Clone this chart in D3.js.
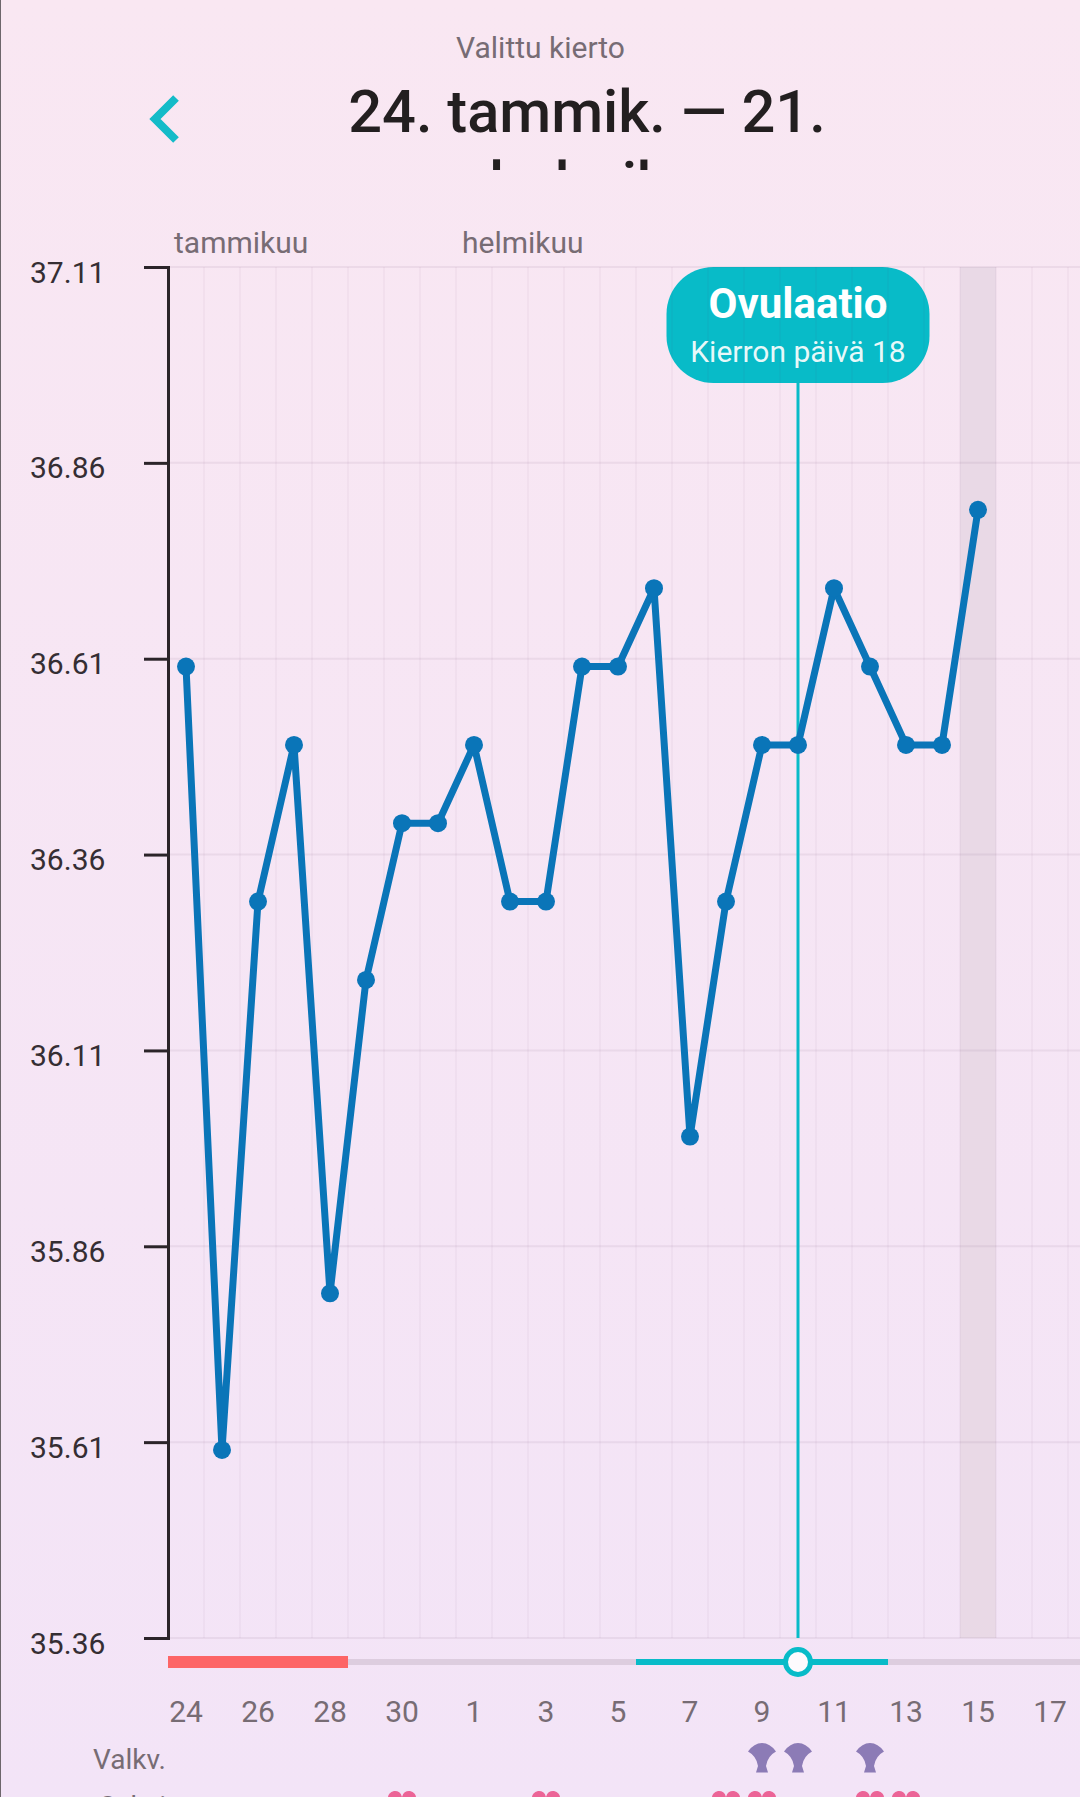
<!DOCTYPE html>
<html>
<head>
<meta charset="utf-8">
<title>Valittu kierto</title>
<script src="https://cdn.jsdelivr.net/npm/d3@7"></script>
<style>
    html, body {margin: 0; padding: 0; overflow: hidden; background: #f6e6f4;}
    svg {display: block; font-family: Roboto, sans-serif;}
</style>
</head>
<body>
<div id="chart"></div>
<script>
// days of the cycle, 24 Jan - 21 Feb
const days = [24, 25, 26, 27, 28, 29, 30, 31, 1, 2, 3, 4, 5, 6, 7, 8, 9, 10, 11, 12, 13, 14, 15, 16, 17, 18, 19, 20, 21];
const dayTicks = [24, 26, 28, 30, 1, 3, 5, 7, 9, 11, 13, 15, 17];
const months = [{name: "tammikuu", first: 24}, {name: "helmikuu", first: 1}];

// basal temperature, one reading per day up to the 15th
const temperatures = [36.6, 35.6, 36.3, 36.5, 35.8, 36.2, 36.4, 36.4, 36.5, 36.3, 36.3, 36.6, 36.6, 36.7, 36.0, 36.3, 36.5, 36.5, 36.7, 36.6, 36.5, 36.5, 36.8];
const tempTicks = [37.11, 36.86, 36.61, 36.36, 36.11, 35.86, 35.61, 35.36];

const periodDays = [24, 28];
const fertileDays = [6, 12];
const ovulationDay = 10;
const todayShade = 15;
const mucusDays = [9, 10, 12];
const sexDays = [30, 3, 8, 9, 12, 13];

const width = 1080, height = 1797;
const plot = {left: 168, top: 267, bottom: 1638, step: 36};

const teal = "#08bbc8", labelGrey = "#776c74", axisDark = "#2b2429", lineBlue = "#0a75b8";

let svg = d3.select("#chart").append("svg")
    .attr("width", width).attr("height", height)
    .attr("viewBox", "0 0 " + width + " " + height);

let defs = svg.append("defs");
let bg = defs.append("linearGradient").attr("id", "bg").attr("x1", 0).attr("y1", 0).attr("x2", 0).attr("y2", 1);
bg.append("stop").attr("offset", "0%").attr("stop-color", "#f9e7f2");
bg.append("stop").attr("offset", "100%").attr("stop-color", "#f3e4f7");
defs.append("clipPath").attr("id", "titleClip").append("rect")
    .attr("x", 0).attr("y", 0).attr("width", width).attr("height", 170);

svg.append("rect").attr("width", width).attr("height", height).attr("fill", "url(#bg)");
svg.append("rect").attr("width", 1).attr("height", height).attr("fill", "#6d666b");

//Scales
let x = d3.scaleBand().domain(days).range([plot.left, plot.left + plot.step * days.length]);
let y = d3.scaleLinear().domain([35.36, 37.11]).range([plot.bottom, plot.top]);
let cx = d => x(d) + x.bandwidth() / 2;

//Header
svg.append("text").attr("x", 540.5).attr("y", 58).attr("text-anchor", "middle")
    .attr("font-size", 30).attr("fill", labelGrey).text("Valittu kierto");

svg.append("path").attr("d", "M176,98 L155,119 L176,140")
    .attr("fill", "none").attr("stroke", "#14bbc8").attr("stroke-width", 8);

let title = svg.append("g").attr("clip-path", "url(#titleClip)")
    .attr("text-anchor", "middle").attr("font-size", 59.6).attr("font-weight", 500).attr("fill", "#231f20");
title.append("text").attr("x", 587).attr("y", 132).text("24. tammik. — 21.");
title.append("text").attr("x", 587).attr("y", 204).text("helmik.");

//Month names
svg.append("g").selectAll("text").data(months).enter().append("text")
    .attr("x", d => x(d.first) + 6).attr("y", 253)
    .attr("font-size", 30).attr("fill", labelGrey).text(d => d.name);

//Shaded day
svg.append("rect").attr("x", x(todayShade)).attr("y", plot.top)
    .attr("width", x.bandwidth()).attr("height", plot.bottom - plot.top).attr("fill", "#e9d9e6");

//Ovulation callout and its line
svg.append("rect").attr("x", cx(ovulationDay) - 131.5).attr("y", plot.top)
    .attr("width", 263).attr("height", 116).attr("rx", 47).attr("fill", teal);

//Grid lines
let grid = svg.append("g").attr("stroke", "#6a3a6a");
grid.selectAll(".v").data(days).enter().append("line").attr("class", "v")
    .attr("x1", d => x(d)).attr("x2", d => x(d))
    .attr("y1", plot.top).attr("y2", plot.bottom)
    .attr("stroke-width", 2).attr("stroke-opacity", 0.04);
grid.selectAll(".h").data(tempTicks).enter().append("line").attr("class", "h")
    .attr("x1", plot.left).attr("x2", width)
    .attr("y1", d => y(d)).attr("y2", d => y(d))
    .attr("stroke-width", 2).attr("stroke-opacity", 0.08);

svg.append("line").attr("x1", cx(ovulationDay)).attr("x2", cx(ovulationDay))
    .attr("y1", plot.top + 116).attr("y2", plot.bottom)
    .attr("stroke", teal).attr("stroke-width", 3);

let callout = svg.append("g").attr("text-anchor", "middle").attr("fill", "#ffffff");
callout.append("text").attr("x", cx(ovulationDay)).attr("y", 318)
    .attr("font-size", 42).attr("font-weight", 700).text("Ovulaatio");
callout.append("text").attr("x", cx(ovulationDay)).attr("y", 362)
    .attr("font-size", 30).attr("fill-opacity", 0.92).text("Kierron päivä 18");

//Temperature axis
let yAxis = d3.axisLeft(y).tickValues(tempTicks).tickSize(24).tickPadding(0).tickFormat(d3.format(".2f"));
let yG = svg.append("g").attr("transform", "translate(" + plot.left + ",0)").call(yAxis);
yG.select(".domain").attr("stroke", axisDark).attr("stroke-width", 3);
yG.selectAll(".tick line").attr("stroke", axisDark).attr("stroke-width", 3);
yG.selectAll(".tick text")
    .attr("x", 30 - plot.left).attr("dy", "0.5em").style("text-anchor", "start")
    .attr("font-family", "Roboto").attr("font-size", 30).attr("fill", "#352e33");

//Cycle phase strip
let strip = svg.append("g");
strip.append("rect").attr("x", plot.left).attr("y", 1659).attr("width", width - plot.left).attr("height", 6).attr("fill", "#ddcddf");
strip.append("rect").attr("x", x(fertileDays[0])).attr("y", 1659)
    .attr("width", x(fertileDays[1]) + x.bandwidth() - x(fertileDays[0])).attr("height", 6).attr("fill", teal);
strip.append("rect").attr("x", x(periodDays[0])).attr("y", 1656)
    .attr("width", x(periodDays[1]) + x.bandwidth() - x(periodDays[0])).attr("height", 12).attr("fill", "#fd6566");
strip.append("circle").attr("cx", cx(ovulationDay)).attr("cy", 1662).attr("r", 12.5)
    .attr("fill", "#fdfafd").attr("stroke", teal).attr("stroke-width", 5);

//Day labels
let xAxis = d3.axisBottom(x).tickValues(dayTicks).tickSize(0).tickPadding(0);
let xG = svg.append("g").attr("transform", "translate(0,1700)").call(xAxis);
xG.select(".domain").remove();
xG.selectAll(".tick text").attr("y", 0).attr("dy", "0.72em")
    .attr("font-family", "Roboto").attr("font-size", 30).attr("fill", labelGrey);

//Temperature line
let line = d3.line().x((d, i) => cx(days[i])).y(d => y(d));
svg.append("path").datum(temperatures).attr("d", line)
    .attr("fill", "none").attr("stroke", lineBlue).attr("stroke-width", 7).attr("stroke-linejoin", "round");
svg.append("g").selectAll("circle").data(temperatures).enter().append("circle")
    .attr("cx", (d, i) => cx(days[i])).attr("cy", d => y(d)).attr("r", 9).attr("fill", lineBlue);

//Symptom rows
let rows = svg.append("g").attr("text-anchor", "end").attr("font-size", 28).attr("fill", labelGrey);
rows.append("text").attr("x", 166).attr("y", 1769).text("Valkv.");
rows.append("text").attr("x", 166).attr("y", 1816).text("Seksi");

svg.append("g").selectAll("path").data(mucusDays).enter().append("path")
    .attr("transform", d => "translate(" + cx(d) + ",1743)")
    .attr("d", "M-14,8.5 Q-8,0 0,0 Q8,0 14,8.5 Q5.5,13 4,23 L6,29.5 L-6,29.5 L-4,23 Q-5.5,13 -14,8.5 Z")
    .attr("fill", "#8c7bb6");

svg.append("g").selectAll("path").data(sexDays).enter().append("path")
    .attr("transform", d => "translate(" + cx(d) + ",1793)")
    .attr("d", "M0,4 A7,7 0 0 1 14,6 C14,14 5,20 0,25 C-5,20 -14,14 -14,6 A7,7 0 0 1 0,4 Z")
    .attr("fill", "#ec6497");
</script>
</body>
</html>
